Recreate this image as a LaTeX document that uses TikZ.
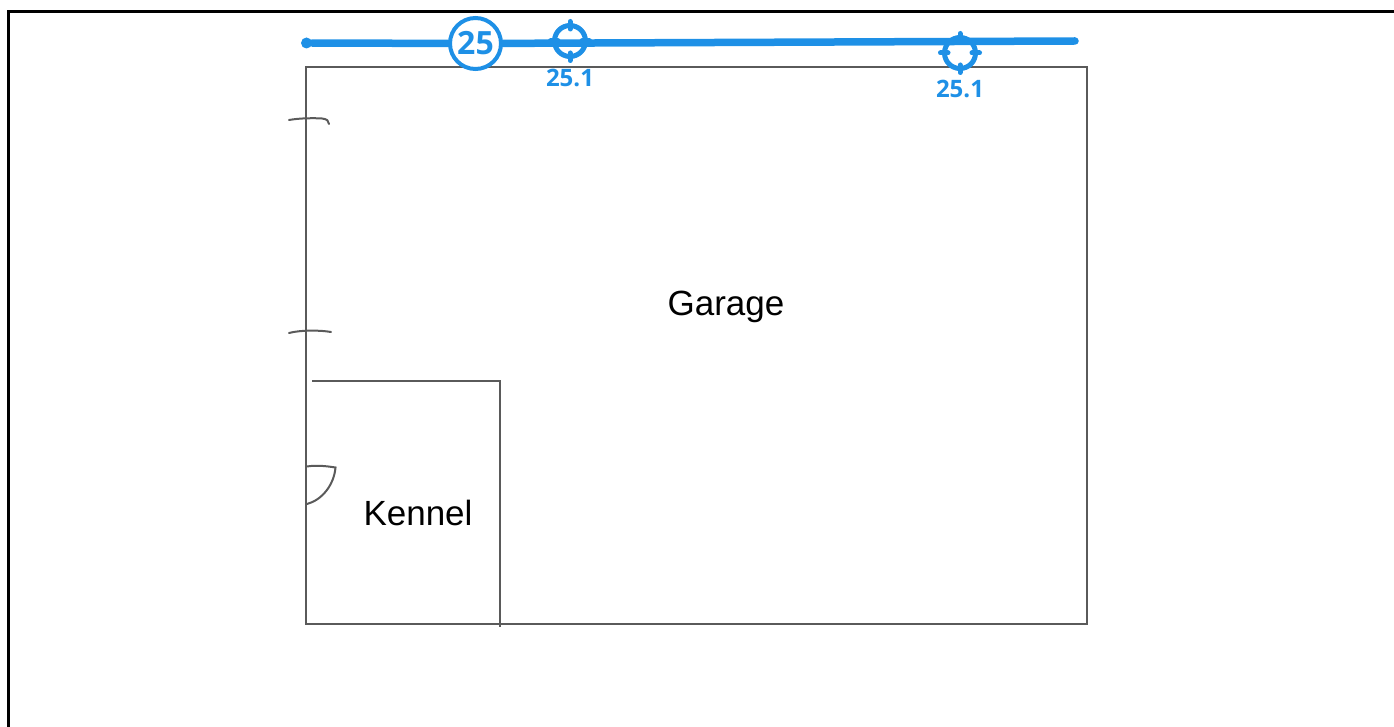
\documentclass[tikz,border=0pt]{standalone}
\usepackage{fontspec}
\setmainfont{Liberation Sans}
\newfontfamily\markfont{Open Sans}
\definecolor{runblue}{HTML}{1E90E6}
\definecolor{wallgray}{HTML}{5A5A5A}
\tikzset{
    wall/.style={draw=wallgray,line width=2.5pt},
    sketch/.style={draw=wallgray,line width=2pt,line cap=round},
    room/.style={font={\fontsize{35}{35}\selectfont},text=black,inner sep=0pt},
    run/.style={draw=runblue,line width=7.5pt,line cap=round},
    runstart/.style={circle,fill=runblue,minimum size=11pt,inner sep=0pt},
    runlabel/.style={circle,draw=runblue,line width=4pt,fill=white,minimum size=51pt,inner sep=0pt,text=runblue,font={\markfont\bfseries\fontsize{32}{32}\selectfont}},
    target/.style={circle,draw=runblue,line width=5pt,minimum size=31pt,inner sep=0pt},
    targettick/.style={draw=runblue,line width=5pt,line cap=round},
    targetlabel/.style={text=runblue,inner sep=0pt,font={\markfont\bfseries\fontsize{24}{24}\selectfont}}
}
\begin{document}
\begin{tikzpicture}[x=1pt,y=-1pt]
    \useasboundingbox (0,0) rectangle (1394,727);

    % outer frame
    \draw[black,line width=3.5pt] (8.5,727) -- (8.5,11.5) -- (1394,11.5);

    % walls
    \draw[wall] (306,67) rectangle (1087,624);
    \draw[wall] (312,381) -- (500,381) -- (500,627);

    % openings
    \draw[sketch] (289,120) .. controls (300,118) and (315,118) .. (322,118.5) .. controls (327,119) and (329,121) .. (329,124);
    \draw[sketch] (289,333) .. controls (300,330) and (320,330) .. (331,332);
    \draw[sketch] (307,466.5) .. controls (316,465) and (326,466) .. (335.5,467.5) .. controls (334,485) and (322,500) .. (307,504);

    \node[room] (garage) at (726,307) {Garage};
    \node[room] (kennel) at (418,513) {Kennel};

    % cable run
    \node[runstart] (start) at (306.5,43) {};
    \coordinate (runend) at (1075,41);
    \node[runlabel] (label25) at (475.5,43.5) {25};
    \draw[run] (start) -- (label25);
    \draw[run] (label25) -- (runend);

    % targets
    \foreach \name/\px/\py/\lpy in {one/570/41/78,two/960/53/89}{
        \node[target] (\name) at (\px,\py) {};
        \foreach \ang in {0,90,180,270}
            \draw[targettick] (\name.center) ++(\ang:12) -- ++(\ang:7.5);
        \node[targetlabel] (\name label) at (\px,\lpy) {25.1};
    }
\end{tikzpicture}
\end{document}
